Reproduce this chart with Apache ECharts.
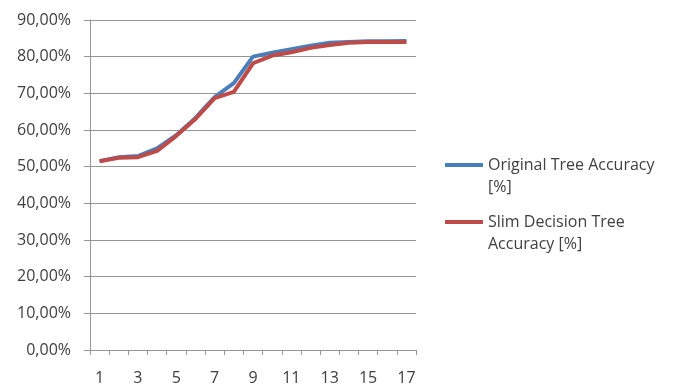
<!DOCTYPE html>
<html>
<head>
<meta charset="utf-8">
<script src="https://cdn.jsdelivr.net/npm/echarts@6/dist/echarts.min.js"></script>
<style>
  html, body { margin: 0; padding: 0; background: #fff; }
  #chart { width: 675px; height: 388px; }
</style>
</head>
<body>
<div id="chart"></div>
<script>
// Number of tree levels on the x axis
const categories = ['1','2','3','4','5','6','7','8','9','10','11','12','13','14','15','16','17'];

// Accuracy per level, in percent
const originalTreeAccuracy = [51.5, 52.6, 52.9, 55.0, 58.6, 63.3, 69.0, 72.8, 80.0, 81.1, 82.0, 83.0, 83.8, 84.0, 84.2, 84.2, 84.3];
const slimTreeAccuracy     = [51.5, 52.4, 52.6, 54.3, 58.4, 63.0, 68.7, 70.4, 78.2, 80.3, 81.2, 82.4, 83.2, 83.8, 84.0, 84.0, 84.0];

const seriesNames = ['Original Tree Accuracy\n[%]', 'Slim Decision Tree\nAccuracy [%]'];

const FONT = 'Open Sans';
const TEXT = '#404040';
const AXIS = '#959595';

// Leading blank line keeps the legend line beside the first text row
const legendFormatter = name => '\n' + name;

const legendCommon = {
  orient: 'vertical',
  left: 445,
  padding: 0,
  itemWidth: 38,
  itemHeight: 4,
  icon: 'rect',
  selectedMode: false,
  formatter: legendFormatter,
  textStyle: { fontFamily: FONT, fontSize: 16, color: TEXT, lineHeight: 22 }
};

const chart = echarts.init(document.getElementById('chart'));
chart.setOption({
  animation: false,
  backgroundColor: '#ffffff',
  grid: { left: 90, right: 259, top: 20, bottom: 38, containLabel: false },
  legend: [
    Object.assign({}, legendCommon, { top: 132, data: [seriesNames[0]] }),
    Object.assign({}, legendCommon, { top: 189, data: [seriesNames[1]] })
  ],
  xAxis: {
    type: 'category',
    data: categories,
    boundaryGap: true,
    axisLine: { lineStyle: { color: AXIS, width: 1 } },
    axisTick: { show: true, interval: 0, length: 5, lineStyle: { color: AXIS } },
    axisLabel: { interval: 1, margin: 20, fontFamily: FONT, fontSize: 16, color: TEXT },
    splitLine: { show: false }
  },
  yAxis: {
    type: 'value',
    min: 0,
    max: 90,
    interval: 10,
    axisLine: { show: true, lineStyle: { color: AXIS, width: 1 } },
    axisTick: { show: true, length: 6, lineStyle: { color: AXIS } },
    axisLabel: {
      margin: 19,
      fontFamily: FONT,
      fontSize: 16,
      color: TEXT,
      formatter: v => v.toFixed(2).replace('.', ',') + '%'
    },
    splitLine: { show: true, lineStyle: { color: AXIS, width: 1 } }
  },
  series: [
    {
      name: seriesNames[0],
      type: 'line',
      data: originalTreeAccuracy,
      symbol: 'none',
      color: '#4a7ebb',
      lineStyle: { width: 4, color: '#4a7ebb' }
    },
    {
      name: seriesNames[1],
      type: 'line',
      data: slimTreeAccuracy,
      symbol: 'none',
      color: '#be4b48',
      lineStyle: { width: 4, color: '#be4b48' }
    }
  ]
});
</script>
</body>
</html>
